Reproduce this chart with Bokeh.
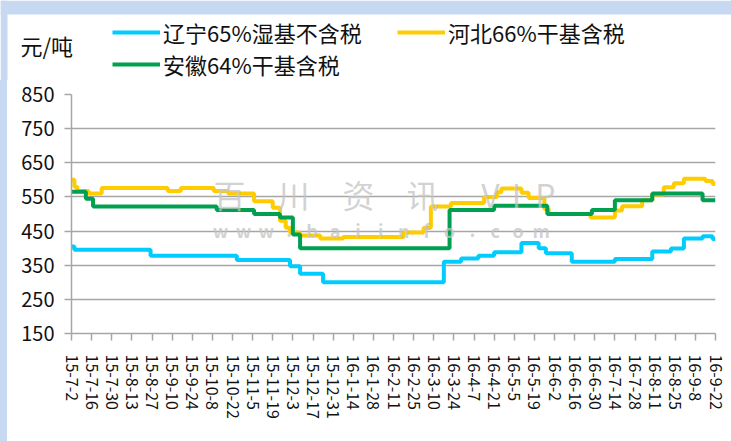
from datetime import date
from bokeh.plotting import figure
from bokeh.layouts import column, row
from bokeh.models import Range1d, FixedTicker, Legend, LegendItem, Label, BoxAnnotation, Spacer
from bokeh.embed import file_html
from bokeh.resources import INLINE

# ---------------- data ----------------
start_date = "2015-07-02"
tick_labels = ["15-7-2", "15-7-16", "15-7-30", "15-8-13", "15-8-27", "15-9-10", "15-9-24",
               "15-10-8", "15-10-22", "15-11-5", "15-11-19", "15-12-3", "15-12-17", "15-12-31",
               "16-1-14", "16-1-28", "16-2-11", "16-2-25", "16-3-10", "16-3-24", "16-4-7",
               "16-4-21", "16-5-5", "16-5-19", "16-6-2", "16-6-16", "16-6-30", "16-7-14",
               "16-7-28", "16-8-11", "16-8-25", "16-9-8", "16-9-22"]
y_ticks = [150, 250, 350, 450, 550, 650, 750, 850]
unit_label = "元/吨"

series_names = ["辽宁65%湿基不含税", "河北66%干基含税", "安徽64%干基含税"]

liaoning_dates = ["2015-07-02", "2015-07-04", "2015-08-26", "2015-10-25", "2015-12-01", "2015-12-08",
                  "2015-12-24", "2016-03-17", "2016-03-29", "2016-04-10", "2016-04-21", "2016-05-10",
                  "2016-05-22", "2016-05-27", "2016-06-14", "2016-07-14", "2016-08-09", "2016-08-22",
                  "2016-08-31", "2016-09-13", "2016-09-20", "2016-09-22"]
liaoning_values = [405, 395, 378, 365, 347, 325,
                   300, 360, 370, 378, 388, 415,
                   400, 385, 360, 368, 390, 399,
                   428, 435, 427, 427]

hebei_dates = ["2015-07-02", "2015-07-04", "2015-07-06", "2015-07-14", "2015-07-23", "2015-09-07",
               "2015-09-16", "2015-10-09", "2015-10-19", "2015-11-06", "2015-11-19", "2015-11-24",
               "2015-11-28", "2015-12-01", "2015-12-08", "2015-12-22", "2016-01-07", "2016-02-18",
               "2016-03-03", "2016-03-08", "2016-03-22", "2016-04-14", "2016-04-23", "2016-04-26",
               "2016-05-10", "2016-05-15", "2016-05-26", "2016-05-29", "2016-06-27", "2016-07-14",
               "2016-07-19", "2016-08-02", "2016-08-09", "2016-08-17", "2016-08-24", "2016-08-31",
               "2016-09-15", "2016-09-20", "2016-09-22"]
hebei_values = [600, 580, 567, 560, 576, 567,
                576, 567, 560, 537, 518, 480,
                460, 446, 437, 428, 433, 446,
                460, 522, 532, 550, 564, 575,
                562, 547, 515, 500, 490, 510,
                523, 540, 557, 578, 590, 603,
                597, 588, 588]

anhui_dates = ["2015-07-02", "2015-07-12", "2015-07-17", "2015-10-11", "2015-11-06", "2015-11-24",
               "2015-12-03", "2015-12-08", "2016-03-21", "2016-04-21", "2016-05-28", "2016-06-28",
               "2016-07-14", "2016-08-09", "2016-09-13", "2016-09-22"]
anhui_values = [565, 545, 522, 512, 500, 490,
                440, 400, 512, 524, 500, 512,
                540, 560, 540, 540]

# ---------------- helpers ----------------
def parse_iso(s):
    y, m, d = s.split("-")
    return date(int(y), int(m), int(d))

def parse_label(s):
    y, m, d = s.split("-")
    return date(2000 + int(y), int(m), int(d))

t0 = parse_iso(start_date)

def to_days(dates):
    return [(parse_iso(s) - t0).days for s in dates]

tick_pos = [(parse_label(s) - t0).days for s in tick_labels]

FONT = "Noto Sans CJK SC"
GRID = "#a6a6a6"
TEXT = "#111111"
BLUE = "#00CCFF"
YELLOW = "#FFCC00"
GREEN = "#00A050"
BAND = "#C6D9F1"
WM = "#c4c4c4"
colors = [BLUE, YELLOW, GREEN]
series = [(liaoning_dates, liaoning_values), (hebei_dates, hebei_values), (anhui_dates, anhui_values)]

W = 731
H = 441
HEAD_H = 80
STRIP_W = 7

# ---------------- header (legend + unit) ----------------
h = figure(width=W, height=HEAD_H, output_backend="svg", toolbar_location=None,
           x_axis_type=None, y_axis_type=None,
           x_range=Range1d(0, W), y_range=Range1d(0, HEAD_H),
           min_border=0, min_border_left=0, min_border_right=0, min_border_top=0, min_border_bottom=0)
h.frame_align = False
h.outline_line_color = None
h.xgrid.visible = False
h.ygrid.visible = False
h.add_layout(BoxAnnotation(left=0, right=W, bottom=HEAD_H - 14, top=HEAD_H,
                           fill_color=BAND, fill_alpha=1, line_alpha=0))
h.add_layout(BoxAnnotation(left=0, right=STRIP_W, bottom=0, top=HEAD_H,
                           fill_color=BAND, fill_alpha=1, line_alpha=0))

# legend keys: same series, far outside this header's pixel ranges (only the keys show)
keys = [h.line(x=to_days(d), y=v, line_color=c, line_width=4) for (d, v), c in zip(series, colors)]

def make_legend(name, r, loc):
    lg = Legend(items=[LegendItem(label=name, renderers=[r])], location=loc,
                padding=0, margin=0, spacing=0, border_line_alpha=0, background_fill_alpha=0,
                glyph_width=48, glyph_height=30, label_height=30, label_standoff=3,
                label_text_font=FONT, label_text_font_size="22px", label_text_color=TEXT)
    h.add_layout(lg)

make_legend(series_names[0], keys[0], (112, 32))
make_legend(series_names[1], keys[1], (397, 32))
make_legend(series_names[2], keys[2], (112, 0))

h.add_layout(Label(x=20, y=36, x_units="screen", y_units="screen", text=unit_label,
                   text_font=FONT, text_font_size="22px", text_color=TEXT,
                   text_baseline="middle", text_align="left"))

# ---------------- main chart ----------------
MAIN_H = H - HEAD_H
p = figure(width=W - STRIP_W, height=MAIN_H, output_backend="svg", toolbar_location=None,
           x_range=Range1d(tick_pos[0], tick_pos[-1]), y_range=Range1d(y_ticks[0], y_ticks[-1]),
           min_border_left=64, min_border_right=16, min_border_top=14, min_border_bottom=108)
p.frame_align = False
p.outline_line_color = None

p.xaxis.ticker = FixedTicker(ticks=tick_pos)
p.xaxis.major_label_overrides = {t: l for t, l in zip(tick_pos, tick_labels)}
p.xaxis.major_label_orientation = "vertical"
p.xaxis.major_label_text_font = FONT
p.xaxis.major_label_text_font_size = "16px"
p.xaxis.major_label_text_color = TEXT
p.xaxis.major_label_standoff = 14
p.xaxis.major_tick_out = 7
p.xaxis.major_tick_in = 0
p.xaxis.minor_tick_line_color = None
p.xaxis.axis_line_color = GRID
p.xaxis.axis_line_width = 1.5
p.xaxis.major_tick_line_color = GRID
p.xaxis.major_tick_line_width = 1.5

p.yaxis.ticker = FixedTicker(ticks=y_ticks)
p.yaxis.major_label_text_font = FONT
p.yaxis.major_label_text_font_size = "20px"
p.yaxis.major_label_text_color = TEXT
p.yaxis.major_label_standoff = 10
p.yaxis.major_tick_out = 7
p.yaxis.major_tick_in = 0
p.yaxis.minor_tick_line_color = None
p.yaxis.axis_line_color = GRID
p.yaxis.axis_line_width = 1.5
p.yaxis.major_tick_line_color = GRID
p.yaxis.major_tick_line_width = 1.5

p.xgrid.visible = False
p.ygrid.ticker = FixedTicker(ticks=y_ticks)
p.ygrid.grid_line_color = GRID
p.ygrid.grid_line_width = 1.5

# watermark
wm_chars = ["百", "川", "资", "讯", "V", "I", "P"]
wm_x = [158, 222, 287, 351, 419, 445, 474]
for ch, xx in zip(wm_chars, wm_x):
    p.add_layout(Label(x=xx, y=140, x_units="screen", y_units="screen", text=ch,
                       text_font=FONT, text_font_size="32px", text_color=WM,
                       text_alpha=0.75, text_align="center", text_baseline="middle"))
wm_url = "www.baiinfo.com"
for i, ch in enumerate(wm_url):
    p.add_layout(Label(x=149 + i * 22.9, y=104, x_units="screen", y_units="screen", text=ch,
                       text_font=FONT, text_font_size="18px", text_font_style="bold",
                       text_color=WM, text_alpha=0.75, text_align="center",
                       text_baseline="alphabetic"))

for (d, v), c in zip(series, colors):
    p.step(to_days(d), v, mode="after", line_color=c, line_width=4)

strip = Spacer(width=STRIP_W, height=MAIN_H, styles={"background-color": BAND})

layout = column(h, row(strip, p, spacing=0), spacing=0)
open("out.html", "w").write(file_html(layout, INLINE))
